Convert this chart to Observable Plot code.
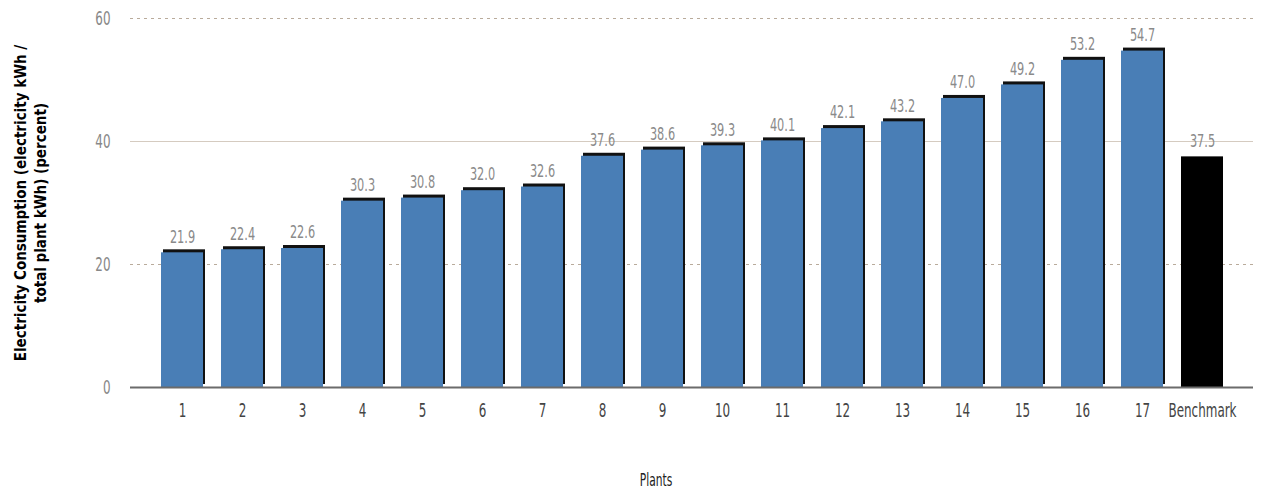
<!DOCTYPE html>
<html>
<head>
<meta charset="utf-8">
<script src="https://cdn.jsdelivr.net/npm/d3@7"></script>
<script src="https://cdn.jsdelivr.net/npm/@observablehq/plot@0.6"></script>
<style>
  html, body { margin: 0; padding: 0; background: #fff; }
</style>
</head>
<body>
<div id="chart"></div>
<script>
const plants = ["1","2","3","4","5","6","7","8","9","10","11","12","13","14","15","16","17","Benchmark"];
const values = [21.9,22.4,22.6,30.3,30.8,32.0,32.6,37.6,38.6,39.3,40.1,42.1,43.2,47.0,49.2,53.2,54.7,37.5];
const yTicks = [0,20,40,60];
const yLabel = "Electricity Consumption (electricity kWh /\ntotal plant kWh) (percent)";
const xLabel = "Plants";

const data = plants.map((p, i) => ({plant: p, value: values[i]}));
const font = "'DejaVu Sans Condensed', 'Liberation Sans Narrow', sans-serif";

const chart = Plot.plot({
  width: 1266,
  height: 493,
  marginTop: 18,
  marginBottom: 106,
  marginLeft: 130,
  marginRight: 13,
  style: {fontFamily: font, fontSize: "16px", background: "#fff"},
  x: {domain: plants, paddingInner: 0.3, paddingOuter: 0.44},
  y: {domain: [0, 60]},
  marks: [
    Plot.ruleY([20, 60], {stroke: "#b9ab9b", strokeDasharray: "3,4"}),
    Plot.ruleY([40], {stroke: "#d5cbc0"}),
    Plot.barY(data.filter(d => d.plant !== "Benchmark"), {x: "plant", y: "value", fill: "#111", dx: 2, dy: -3}),
    Plot.barY(data, {x: "plant", y: "value", fill: d => d.plant === "Benchmark" ? "#000" : "#497eb6"}),
    Plot.ruleY([0], {stroke: "#6b6b6b", strokeWidth: 2}),
    Plot.text(data, {x: "plant", y: "value", text: d => d.value.toFixed(1), dy: -16, fill: "#8a8a8a", fontSize: 18}),
    Plot.axisX({tickSize: 0, tickPadding: 16, label: null, fill: "#444", fontSize: 19}),
    Plot.axisY({ticks: yTicks, tickSize: 0, tickPadding: 20, label: null, fill: "#888", fontSize: 19}),
    Plot.text([yLabel], {frameAnchor: "left", rotate: -90, text: d => d, dx: -118, textAnchor: "middle", lineAnchor: "top", lineHeight: 1.3, fill: "#000", fontWeight: "bold", fontSize: 15}),
    Plot.text([xLabel], {frameAnchor: "bottom", text: d => d, dy: 98, dx: -36, fill: "#222", fontSize: 17})
  ]
});
// condense horizontal text (reference uses a narrow typeface)
d3.select(chart).selectAll("text").each(function() {
  const t = this.getAttribute("transform");
  if (t && !t.includes("rotate")) this.setAttribute("transform", t + " scale(0.7,1)");
});
document.getElementById("chart").appendChild(chart);
</script>
</body>
</html>
